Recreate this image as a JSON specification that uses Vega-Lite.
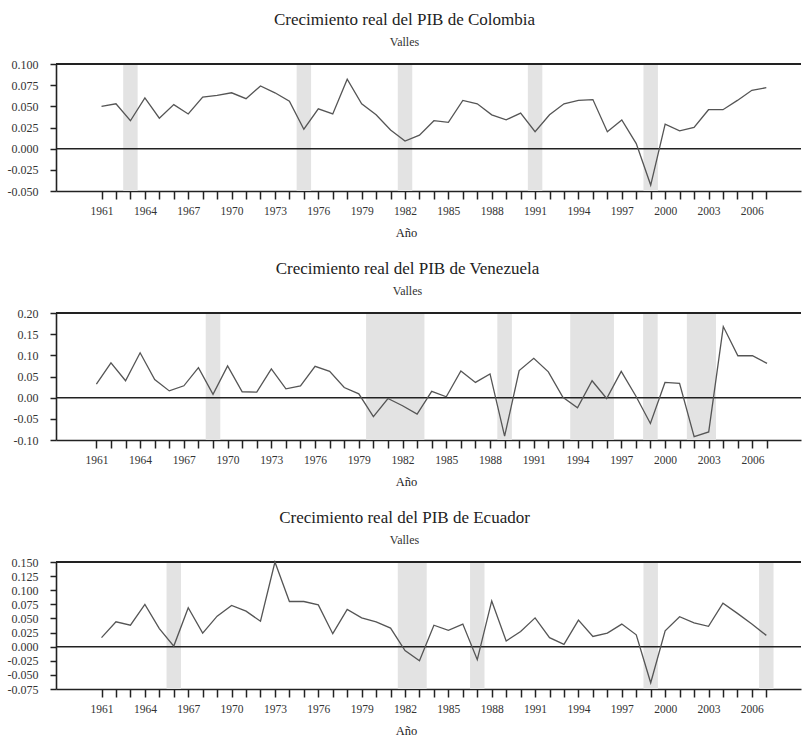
{
  "$schema": "https://vega.github.io/schema/vega-lite/v6.json",
  "padding": {"left": 7, "right": 0, "top": 11, "bottom": 0},
  "background": "white",
  "align": "none",
  "spacing": 21,
  "datasets": {
    "colombia": [
      {"year": 1961, "value": 0.050}, {"year": 1962, "value": 0.053}, {"year": 1963, "value": 0.033},
      {"year": 1964, "value": 0.060}, {"year": 1965, "value": 0.036}, {"year": 1966, "value": 0.052},
      {"year": 1967, "value": 0.041}, {"year": 1968, "value": 0.061}, {"year": 1969, "value": 0.063},
      {"year": 1970, "value": 0.066}, {"year": 1971, "value": 0.059}, {"year": 1972, "value": 0.074},
      {"year": 1973, "value": 0.066}, {"year": 1974, "value": 0.056}, {"year": 1975, "value": 0.023},
      {"year": 1976, "value": 0.047}, {"year": 1977, "value": 0.041}, {"year": 1978, "value": 0.082},
      {"year": 1979, "value": 0.053}, {"year": 1980, "value": 0.040}, {"year": 1981, "value": 0.022},
      {"year": 1982, "value": 0.009}, {"year": 1983, "value": 0.016}, {"year": 1984, "value": 0.033},
      {"year": 1985, "value": 0.031}, {"year": 1986, "value": 0.057}, {"year": 1987, "value": 0.053},
      {"year": 1988, "value": 0.040}, {"year": 1989, "value": 0.034}, {"year": 1990, "value": 0.042},
      {"year": 1991, "value": 0.020}, {"year": 1992, "value": 0.040}, {"year": 1993, "value": 0.053},
      {"year": 1994, "value": 0.057}, {"year": 1995, "value": 0.058}, {"year": 1996, "value": 0.020},
      {"year": 1997, "value": 0.034}, {"year": 1998, "value": 0.006}, {"year": 1999, "value": -0.043},
      {"year": 2000, "value": 0.029}, {"year": 2001, "value": 0.021}, {"year": 2002, "value": 0.025},
      {"year": 2003, "value": 0.046}, {"year": 2004, "value": 0.046}, {"year": 2005, "value": 0.057},
      {"year": 2006, "value": 0.069}, {"year": 2007, "value": 0.072}
    ],
    "venezuela": [
      {"year": 1961, "value": 0.032}, {"year": 1962, "value": 0.082}, {"year": 1963, "value": 0.040},
      {"year": 1964, "value": 0.106}, {"year": 1965, "value": 0.043}, {"year": 1966, "value": 0.016},
      {"year": 1967, "value": 0.028}, {"year": 1968, "value": 0.071}, {"year": 1969, "value": 0.008},
      {"year": 1970, "value": 0.075}, {"year": 1971, "value": 0.014}, {"year": 1972, "value": 0.013},
      {"year": 1973, "value": 0.068}, {"year": 1974, "value": 0.021}, {"year": 1975, "value": 0.028},
      {"year": 1976, "value": 0.074}, {"year": 1977, "value": 0.062}, {"year": 1978, "value": 0.024},
      {"year": 1979, "value": 0.009}, {"year": 1980, "value": -0.045}, {"year": 1981, "value": -0.002},
      {"year": 1982, "value": -0.019}, {"year": 1983, "value": -0.039}, {"year": 1984, "value": 0.015},
      {"year": 1985, "value": 0.002}, {"year": 1986, "value": 0.063}, {"year": 1987, "value": 0.036},
      {"year": 1988, "value": 0.056}, {"year": 1989, "value": -0.091}, {"year": 1990, "value": 0.064},
      {"year": 1991, "value": 0.093}, {"year": 1992, "value": 0.061}, {"year": 1993, "value": 0.001},
      {"year": 1994, "value": -0.024}, {"year": 1995, "value": 0.040}, {"year": 1996, "value": -0.002},
      {"year": 1997, "value": 0.062}, {"year": 1998, "value": 0.004}, {"year": 1999, "value": -0.061},
      {"year": 2000, "value": 0.036}, {"year": 2001, "value": 0.034}, {"year": 2002, "value": -0.092},
      {"year": 2003, "value": -0.081}, {"year": 2004, "value": 0.168}, {"year": 2005, "value": 0.099},
      {"year": 2006, "value": 0.099}, {"year": 2007, "value": 0.081}
    ],
    "ecuador": [
      {"year": 1961, "value": 0.016}, {"year": 1962, "value": 0.044}, {"year": 1963, "value": 0.038},
      {"year": 1964, "value": 0.075}, {"year": 1965, "value": 0.032}, {"year": 1966, "value": 0.001},
      {"year": 1967, "value": 0.069}, {"year": 1968, "value": 0.024}, {"year": 1969, "value": 0.054},
      {"year": 1970, "value": 0.073}, {"year": 1971, "value": 0.063}, {"year": 1972, "value": 0.045},
      {"year": 1973, "value": 0.150}, {"year": 1974, "value": 0.080}, {"year": 1975, "value": 0.080},
      {"year": 1976, "value": 0.074}, {"year": 1977, "value": 0.023}, {"year": 1978, "value": 0.066},
      {"year": 1979, "value": 0.051}, {"year": 1980, "value": 0.044}, {"year": 1981, "value": 0.033},
      {"year": 1982, "value": -0.007}, {"year": 1983, "value": -0.025}, {"year": 1984, "value": 0.038},
      {"year": 1985, "value": 0.029}, {"year": 1986, "value": 0.040}, {"year": 1987, "value": -0.023},
      {"year": 1988, "value": 0.081}, {"year": 1989, "value": 0.010}, {"year": 1990, "value": 0.027},
      {"year": 1991, "value": 0.051}, {"year": 1992, "value": 0.016}, {"year": 1993, "value": 0.004},
      {"year": 1994, "value": 0.047}, {"year": 1995, "value": 0.018}, {"year": 1996, "value": 0.024},
      {"year": 1997, "value": 0.040}, {"year": 1998, "value": 0.021}, {"year": 1999, "value": -0.064},
      {"year": 2000, "value": 0.028}, {"year": 2001, "value": 0.053}, {"year": 2002, "value": 0.042},
      {"year": 2003, "value": 0.036}, {"year": 2004, "value": 0.077}, {"year": 2005, "value": 0.059},
      {"year": 2006, "value": 0.040}, {"year": 2007, "value": 0.020}
    ],
    "valles_colombia": [
      {"inicio": 1962.5, "fin": 1963.5}, {"inicio": 1974.5, "fin": 1975.5}, {"inicio": 1981.5, "fin": 1982.5},
      {"inicio": 1990.5, "fin": 1991.5}, {"inicio": 1998.5, "fin": 1999.5}
    ],
    "valles_venezuela": [
      {"inicio": 1968.5, "fin": 1969.5}, {"inicio": 1979.5, "fin": 1983.5}, {"inicio": 1988.5, "fin": 1989.5},
      {"inicio": 1993.5, "fin": 1996.5}, {"inicio": 1998.5, "fin": 1999.5}, {"inicio": 2001.5, "fin": 2003.5}
    ],
    "valles_ecuador": [
      {"inicio": 1965.5, "fin": 1966.5}, {"inicio": 1981.5, "fin": 1983.5}, {"inicio": 1986.5, "fin": 1987.5},
      {"inicio": 1998.5, "fin": 1999.5}, {"inicio": 2006.5, "fin": 2007.5}
    ]
  },
  "vconcat": [
    {
      "width": 745,
      "height": 127,
      "title": {"text": "Crecimiento real del PIB de Colombia", "subtitle": "Valles"},
      "layer": [
        {
          "data": {"name": "valles_colombia"},
          "mark": {"type": "rect", "color": "#e3e3e3"},
          "encoding": {
            "x": {"field": "inicio", "type": "quantitative", "scale": {"domain": [1957.85, 2009.4], "nice": false, "zero": false}, "title": "Año",
              "axis": {"values": [1961,1962,1963,1964,1965,1966,1967,1968,1969,1970,1971,1972,1973,1974,1975,1976,1977,1978,1979,1980,1981,1982,1983,1984,1985,1986,1987,1988,1989,1990,1991,1992,1993,1994,1995,1996,1997,1998,1999,2000,2001,2002,2003,2004,2005,2006,2007],
                "format": "d", "labelExpr": "(datum.value - 1961) % 3 == 0 ? datum.label : ''", "titleX": 350}},
            "x2": {"field": "fin"}
          }
        },
        {
          "data": {"values": [{"nivel": 0}]},
          "mark": {"type": "rule", "color": "#222", "strokeWidth": 1.5},
          "encoding": {"y": {"field": "nivel", "type": "quantitative", "title": null,
              "scale": {"domain": [-0.05, 0.1], "nice": false, "zero": false},
              "axis": {"values": [-0.05, -0.025, 0, 0.025, 0.05, 0.075, 0.1], "labelExpr": "replace(format(datum.value, '.3f'), '\u2212', '-')"}}}
        },
        {
          "data": {"values": [{"nivel": 0.1}]},
          "mark": {"type": "rule", "color": "#222", "strokeWidth": 2},
          "encoding": {"y": {"field": "nivel", "type": "quantitative", "title": null,
              "scale": {"domain": [-0.05, 0.1], "nice": false, "zero": false},
              "axis": {"values": [-0.05, -0.025, 0, 0.025, 0.05, 0.075, 0.1], "labelExpr": "replace(format(datum.value, '.3f'), '\u2212', '-')"}}}
        },
        {
          "data": {"name": "colombia"},
          "mark": {"type": "line", "color": "#555", "strokeWidth": 1.3},
          "encoding": {
            "x": {"field": "year", "type": "quantitative", "scale": {"domain": [1957.85, 2009.4], "nice": false, "zero": false}, "title": "Año",
              "axis": {"values": [1961,1962,1963,1964,1965,1966,1967,1968,1969,1970,1971,1972,1973,1974,1975,1976,1977,1978,1979,1980,1981,1982,1983,1984,1985,1986,1987,1988,1989,1990,1991,1992,1993,1994,1995,1996,1997,1998,1999,2000,2001,2002,2003,2004,2005,2006,2007],
                "format": "d", "labelExpr": "(datum.value - 1961) % 3 == 0 ? datum.label : ''", "titleX": 350}},
            "y": {"field": "value", "type": "quantitative", "title": null,
              "scale": {"domain": [-0.05, 0.1], "nice": false, "zero": false},
              "axis": {"values": [-0.05, -0.025, 0, 0.025, 0.05, 0.075, 0.1], "labelExpr": "replace(format(datum.value, '.3f'), '\u2212', '-')"}}
          }
        }
      ]
    },
    {
      "width": 745,
      "height": 127,
      "title": {"text": "Crecimiento real del PIB de Venezuela", "subtitle": "Valles"},
      "layer": [
        {
          "data": {"name": "valles_venezuela"},
          "mark": {"type": "rect", "color": "#e3e3e3"},
          "encoding": {
            "x": {"field": "inicio", "type": "quantitative", "scale": {"domain": [1958.23, 2009.33], "nice": false, "zero": false}, "title": "Año",
              "axis": {"values": [1961,1962,1963,1964,1965,1966,1967,1968,1969,1970,1971,1972,1973,1974,1975,1976,1977,1978,1979,1980,1981,1982,1983,1984,1985,1986,1987,1988,1989,1990,1991,1992,1993,1994,1995,1996,1997,1998,1999,2000,2001,2002,2003,2004,2005,2006,2007],
                "format": "d", "labelExpr": "(datum.value - 1961) % 3 == 0 ? datum.label : ''", "titleX": 350}},
            "x2": {"field": "fin"}
          }
        },
        {
          "data": {"values": [{"nivel": 0}]},
          "mark": {"type": "rule", "color": "#222", "strokeWidth": 1.5},
          "encoding": {"y": {"field": "nivel", "type": "quantitative", "title": null,
              "scale": {"domain": [-0.1, 0.2], "nice": false, "zero": false},
              "axis": {"values": [-0.1, -0.05, 0, 0.05, 0.1, 0.15, 0.2], "labelExpr": "replace(format(datum.value, '.2f'), '\u2212', '-')"}}}
        },
        {
          "data": {"values": [{"nivel": 0.2}]},
          "mark": {"type": "rule", "color": "#222", "strokeWidth": 2},
          "encoding": {"y": {"field": "nivel", "type": "quantitative", "title": null,
              "scale": {"domain": [-0.1, 0.2], "nice": false, "zero": false},
              "axis": {"values": [-0.1, -0.05, 0, 0.05, 0.1, 0.15, 0.2], "labelExpr": "replace(format(datum.value, '.2f'), '\u2212', '-')"}}}
        },
        {
          "data": {"name": "venezuela"},
          "mark": {"type": "line", "color": "#555", "strokeWidth": 1.3},
          "encoding": {
            "x": {"field": "year", "type": "quantitative", "scale": {"domain": [1958.23, 2009.33], "nice": false, "zero": false}, "title": "Año",
              "axis": {"values": [1961,1962,1963,1964,1965,1966,1967,1968,1969,1970,1971,1972,1973,1974,1975,1976,1977,1978,1979,1980,1981,1982,1983,1984,1985,1986,1987,1988,1989,1990,1991,1992,1993,1994,1995,1996,1997,1998,1999,2000,2001,2002,2003,2004,2005,2006,2007],
                "format": "d", "labelExpr": "(datum.value - 1961) % 3 == 0 ? datum.label : ''", "titleX": 350}},
            "y": {"field": "value", "type": "quantitative", "title": null,
              "scale": {"domain": [-0.1, 0.2], "nice": false, "zero": false},
              "axis": {"values": [-0.1, -0.05, 0, 0.05, 0.1, 0.15, 0.2], "labelExpr": "replace(format(datum.value, '.2f'), '\u2212', '-')"}}
          }
        }
      ]
    },
    {
      "width": 745,
      "height": 127,
      "title": {"text": "Crecimiento real del PIB de Ecuador", "subtitle": "Valles"},
      "layer": [
        {
          "data": {"name": "valles_ecuador"},
          "mark": {"type": "rect", "color": "#e3e3e3"},
          "encoding": {
            "x": {"field": "inicio", "type": "quantitative", "scale": {"domain": [1957.85, 2009.4], "nice": false, "zero": false}, "title": "Año",
              "axis": {"values": [1961,1962,1963,1964,1965,1966,1967,1968,1969,1970,1971,1972,1973,1974,1975,1976,1977,1978,1979,1980,1981,1982,1983,1984,1985,1986,1987,1988,1989,1990,1991,1992,1993,1994,1995,1996,1997,1998,1999,2000,2001,2002,2003,2004,2005,2006,2007],
                "format": "d", "labelExpr": "(datum.value - 1961) % 3 == 0 ? datum.label : ''", "titleX": 350}},
            "x2": {"field": "fin"}
          }
        },
        {
          "data": {"values": [{"nivel": 0}]},
          "mark": {"type": "rule", "color": "#222", "strokeWidth": 1.5},
          "encoding": {"y": {"field": "nivel", "type": "quantitative", "title": null,
              "scale": {"domain": [-0.075, 0.15], "nice": false, "zero": false},
              "axis": {"values": [-0.075, -0.05, -0.025, 0, 0.025, 0.05, 0.075, 0.1, 0.125, 0.15], "labelExpr": "replace(format(datum.value, '.3f'), '\u2212', '-')"}}}
        },
        {
          "data": {"values": [{"nivel": 0.15}]},
          "mark": {"type": "rule", "color": "#222", "strokeWidth": 2},
          "encoding": {"y": {"field": "nivel", "type": "quantitative", "title": null,
              "scale": {"domain": [-0.075, 0.15], "nice": false, "zero": false},
              "axis": {"values": [-0.075, -0.05, -0.025, 0, 0.025, 0.05, 0.075, 0.1, 0.125, 0.15], "labelExpr": "replace(format(datum.value, '.3f'), '\u2212', '-')"}}}
        },
        {
          "data": {"name": "ecuador"},
          "mark": {"type": "line", "color": "#555", "strokeWidth": 1.3},
          "encoding": {
            "x": {"field": "year", "type": "quantitative", "scale": {"domain": [1957.85, 2009.4], "nice": false, "zero": false}, "title": "Año",
              "axis": {"values": [1961,1962,1963,1964,1965,1966,1967,1968,1969,1970,1971,1972,1973,1974,1975,1976,1977,1978,1979,1980,1981,1982,1983,1984,1985,1986,1987,1988,1989,1990,1991,1992,1993,1994,1995,1996,1997,1998,1999,2000,2001,2002,2003,2004,2005,2006,2007],
                "format": "d", "labelExpr": "(datum.value - 1961) % 3 == 0 ? datum.label : ''", "titleX": 350}},
            "y": {"field": "value", "type": "quantitative", "title": null,
              "scale": {"domain": [-0.075, 0.15], "nice": false, "zero": false},
              "axis": {"values": [-0.075, -0.05, -0.025, 0, 0.025, 0.05, 0.075, 0.1, 0.125, 0.15], "labelExpr": "replace(format(datum.value, '.3f'), '\u2212', '-')"}}
          }
        }
      ]
    }
  ],
  "config": {
    "view": {"stroke": null},
    "font": "Liberation Serif",
    "title": {
      "font": "Liberation Serif", "fontSize": 17, "fontWeight": "normal", "color": "#222",
      "subtitleFont": "Liberation Serif", "subtitleFontSize": 12, "subtitleColor": "#333",
      "anchor": "middle", "frame": "bounds", "offset": 9, "subtitlePadding": 8
    },
    "axis": {
      "grid": false, "domainColor": "#222", "domainWidth": 1.6, "tickColor": "#222", "tickWidth": 1.5,
      "labelFont": "Liberation Serif", "labelColor": "#333", "titleFont": "Liberation Serif",
      "titleFontWeight": "normal", "titleColor": "#222", "titleFontSize": 12.5, "labelOverlap": false, "labelFlush": false
    },
    "axisX": {"tickSize": 8, "labelPadding": 6, "labelFontSize": 11.5, "titlePadding": 10},
    "axisY": {"tickSize": 6, "labelPadding": 12, "labelFontSize": 12}
  }
}
